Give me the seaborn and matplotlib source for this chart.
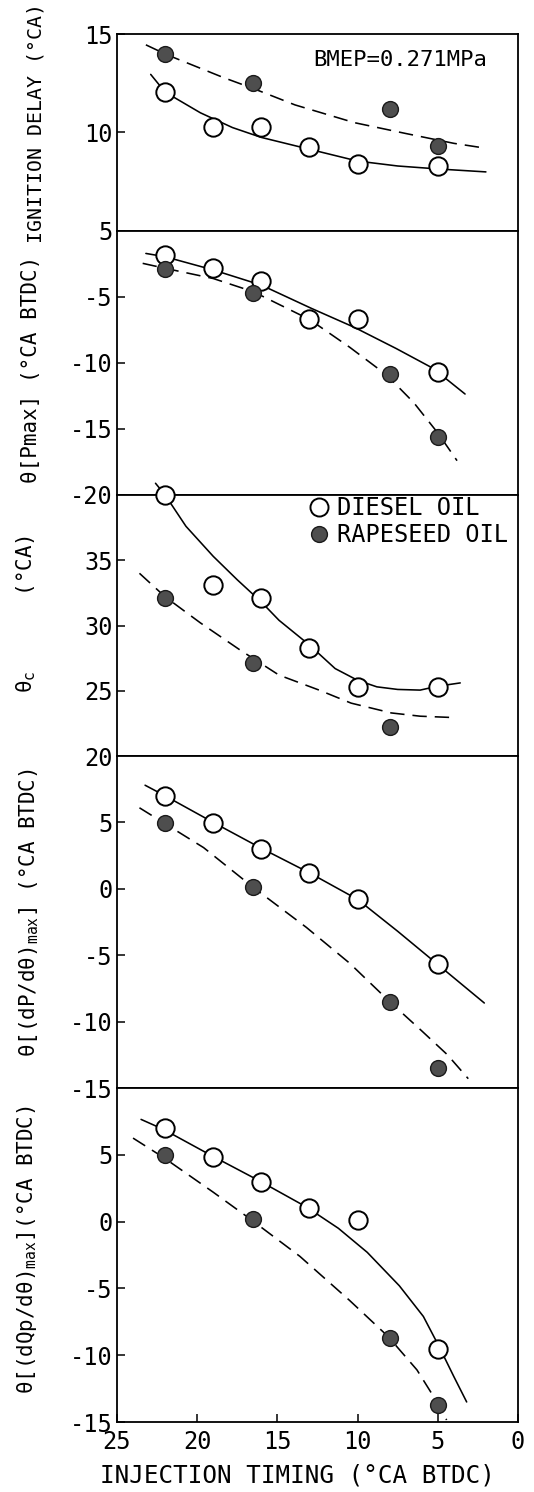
import matplotlib
matplotlib.use("Agg")
import matplotlib.pyplot as plt
import seaborn as sns
from matplotlib.lines import Line2D

# ---------------------------------------------------------------
# Injection timing (°CA BTDC) of the measured points
diesel_timing = [22, 19, 16, 13, 10, 5]
rapeseed_timing = [22, 16.5, 8, 5]
rapeseed_timing_thc = [22, 16.5, 8]

# Ignition delay (°CA)
delay_diesel = [12.05, 10.3, 10.3, 9.25, 8.4, 8.3]
delay_rapeseed = [14.0, 12.5, 11.2, 9.3]
# Crank angle of maximum pressure (°CA BTDC)
pmax_diesel = [-1.8, -2.8, -3.8, -6.7, -6.7, -10.7]
pmax_rapeseed = [-2.9, -4.7, -10.8, -15.6]
# Combustion duration (°CA)
thc_diesel = [40.0, 33.1, 32.1, 28.3, 25.3, 25.3]
thc_rapeseed = [32.1, 27.1, 22.2]
# Crank angle of maximum rate of pressure rise (°CA BTDC)
dp_diesel = [7.0, 4.95, 3.0, 1.2, -0.8, -5.7]
dp_rapeseed = [4.95, 0.1, -8.55, -13.5]
# Crank angle of maximum heat release rate (°CA BTDC)
dq_diesel = [7.0, 4.8, 3.0, 1.0, 0.15, -9.55]
dq_rapeseed = [5.0, 0.2, -8.7, -13.7]

# Hand-drawn trend curves (x = timing, y = value)
delay_diesel_fit_x = [22.9, 22.0, 19.8, 17.8, 16.0, 13.0, 10.0, 7.5, 5.0, 2.0]
delay_diesel_fit_y = [12.95, 12.05, 11.0, 10.25, 9.75, 9.15, 8.55, 8.3, 8.15, 8.0]
delay_rapeseed_fit_x = [23.2, 21.9, 18.4, 16.4, 13.9, 10.2, 7.0, 4.0, 2.0]
delay_rapeseed_fit_y = [14.45, 13.95, 12.8, 12.2, 11.4, 10.5, 9.95, 9.45, 9.2]

pmax_diesel_fit_x = [23.2, 22.0, 19.0, 16.0, 12.9, 10.2, 7.6, 5.3, 3.3]
pmax_diesel_fit_y = [-1.7, -1.95, -2.95, -4.1, -5.85, -7.3, -8.9, -10.4, -12.35]
pmax_rapeseed_fit_x = [23.4, 22.1, 19.0, 16.5, 13.0, 10.5, 8.2, 6.5, 5.0, 3.8]
pmax_rapeseed_fit_y = [-2.45, -2.8, -3.6, -4.6, -6.7, -8.8, -10.9, -13.0, -15.3, -17.4]

thc_diesel_fit_x = [22.6, 22.0, 20.7, 19.0, 17.5, 16.0, 14.9, 13.0, 11.4, 10.0, 8.8, 7.5, 6.1, 5.0, 3.6]
thc_diesel_fit_y = [40.9, 40.0, 37.6, 35.3, 33.5, 31.8, 30.4, 28.5, 26.7, 25.8, 25.3, 25.1, 25.05, 25.35, 25.6]
thc_rapeseed_fit_x = [23.6, 22.0, 19.8, 17.3, 14.9, 12.4, 10.4, 7.9, 6.1, 4.1]
thc_rapeseed_fit_y = [34.0, 32.2, 30.2, 28.1, 26.2, 25.05, 24.05, 23.3, 23.05, 22.95]

dp_diesel_fit_x = [23.25, 22.0, 19.0, 16.0, 13.0, 10.0, 7.5, 5.0, 2.1]
dp_diesel_fit_y = [7.8, 7.0, 5.0, 3.05, 1.2, -0.8, -3.2, -5.7, -8.6]
dp_rapeseed_fit_x = [23.6, 22.0, 19.6, 16.5, 13.2, 10.5, 8.0, 6.0, 4.4, 3.1]
dp_rapeseed_fit_y = [6.1, 4.9, 3.1, 0.1, -2.9, -5.6, -8.5, -10.7, -12.5, -14.3]

dq_diesel_fit_x = [23.5, 22.1, 19.2, 16.2, 13.2, 11.2, 9.4, 7.4, 5.9, 4.9, 4.0, 3.2]
dq_diesel_fit_y = [7.65, 6.9, 5.0, 3.1, 1.1, -0.5, -2.3, -4.8, -7.1, -9.4, -11.6, -13.5]
dq_rapeseed_fit_x = [24.0, 22.1, 19.0, 16.7, 13.6, 10.5, 8.1, 6.3, 5.0, 4.45]
dq_rapeseed_fit_y = [6.25, 4.8, 2.2, 0.2, -2.6, -5.9, -8.6, -11.1, -13.6, -14.85]

x_ticks = [25, 20, 15, 10, 5, 0]
# ---------------------------------------------------------------

sns.set_theme(style="ticks")
plt.rcParams["font.family"] = ["DejaVu Sans Mono", "DejaVu Sans"]
plt.rcParams["mathtext.fontset"] = "custom"
plt.rcParams["mathtext.rm"] = "DejaVu Sans Mono"
plt.rcParams["mathtext.it"] = "DejaVu Sans Mono:italic"
plt.rcParams["mathtext.bf"] = "DejaVu Sans Mono:bold"
plt.rcParams["mathtext.default"] = "regular"
plt.rcParams["text.color"] = "black"
plt.rcParams["axes.labelcolor"] = "black"
plt.rcParams["xtick.color"] = "black"
plt.rcParams["ytick.color"] = "black"

FILL = "#4e4e4e"
W, H = 534, 1492
fig = plt.figure(figsize=(W / 100, H / 100), dpi=100)

panel_edges = [34, 231, 495, 756, 1088, 1422]
ax_left, ax_right = 117, 518

panels = [
    dict(ylim=(5, 15), yticks=[5, 10, 15],
         ylabel="IGNITION DELAY (°CA)", lab=(-0.178, 0.55), lsize=14.3,
         dx=diesel_timing, dy=delay_diesel, rx=rapeseed_timing, ry=delay_rapeseed,
         fd=(delay_diesel_fit_x, delay_diesel_fit_y),
         fr=(delay_rapeseed_fit_x, delay_rapeseed_fit_y)),
    dict(ylim=(-20, 0), yticks=[-20, -15, -10, -5],
         ylabel="θ[Pmax] (°CA BTDC)", lab=(-0.19, 0.475), lsize=15,
         dx=diesel_timing, dy=pmax_diesel, rx=rapeseed_timing, ry=pmax_rapeseed,
         fd=(pmax_diesel_fit_x, pmax_diesel_fit_y),
         fr=(pmax_rapeseed_fit_x, pmax_rapeseed_fit_y)),
    dict(ylim=(20, 40), yticks=[20, 25, 30, 35],
         ylabel="$θ_c$      (°CA)", lab=(-0.198, 0.545), lsize=15,
         dx=diesel_timing, dy=thc_diesel, rx=rapeseed_timing_thc, ry=thc_rapeseed,
         fd=(thc_diesel_fit_x, thc_diesel_fit_y),
         fr=(thc_rapeseed_fit_x, thc_rapeseed_fit_y)),
    dict(ylim=(-15, 10), yticks=[-15, -10, -5, 0, 5],
         ylabel="θ[(dP/dθ$)_{max}$] (°CA BTDC)", lab=(-0.19, 0.527), lsize=15,
         dx=diesel_timing, dy=dp_diesel, rx=rapeseed_timing, ry=dp_rapeseed,
         fd=(dp_diesel_fit_x, dp_diesel_fit_y),
         fr=(dp_rapeseed_fit_x, dp_rapeseed_fit_y)),
    dict(ylim=(-15, 10), yticks=[-15, -10, -5, 0, 5],
         ylabel="θ[(dQp/dθ$)_{max}$](°CA BTDC)", lab=(-0.195, 0.515), lsize=15,
         dx=diesel_timing, dy=dq_diesel, rx=rapeseed_timing, ry=dq_rapeseed,
         fd=(dq_diesel_fit_x, dq_diesel_fit_y),
         fr=(dq_rapeseed_fit_x, dq_rapeseed_fit_y)),
]

axes = []
for i, (p, top, bottom) in enumerate(zip(panels, panel_edges[:-1], panel_edges[1:])):
    ax = fig.add_axes([ax_left / W, 1 - bottom / H,
                       (ax_right - ax_left) / W, (bottom - top) / H])
    axes.append(ax)
    ax.set_facecolor("white")

    # trend curves
    sns.lineplot(x=p["fd"][0], y=p["fd"][1], ax=ax, sort=False, estimator=None,
                 color="black", linewidth=1.15, zorder=2, clip_on=False)
    sns.lineplot(x=p["fr"][0], y=p["fr"][1], ax=ax, sort=False, estimator=None,
                 color="black", linewidth=1.15, linestyle=(0, (9, 5)),
                 zorder=2, clip_on=False)

    # measured points
    sns.scatterplot(x=p["dx"], y=p["dy"], ax=ax, s=175, marker="o",
                    color="white", edgecolor="black", linewidth=1.4,
                    zorder=4, clip_on=False, legend=False)
    sns.scatterplot(x=p["rx"], y=p["ry"], ax=ax, s=130, marker="o",
                    color=FILL, edgecolor="#1a1a1a", linewidth=1.0,
                    zorder=5, clip_on=False, legend=False)

    ax.set_xlim(25, 0)
    ax.set_ylim(*p["ylim"])
    ax.set_yticks(p["yticks"])
    ax.set_yticklabels([str(v) for v in p["yticks"]])
    ax.set_xticks(x_ticks)
    ax.tick_params(axis="y", direction="in", length=6, width=1.1,
                   labelsize=17, pad=3)
    ax.tick_params(axis="x", direction="in", length=6, width=1.1,
                   labelsize=17, pad=6)
    if i < len(panels) - 1:
        ax.tick_params(axis="x", bottom=False, labelbottom=False)
        ax.set_xlabel("")
    for side in ["left", "right", "top", "bottom"]:
        ax.spines[side].set_visible(True)
        ax.spines[side].set_color("black")
        ax.spines[side].set_linewidth(1.3)
    ax.set_ylabel(p["ylabel"], fontsize=p["lsize"])
    ax.yaxis.set_label_coords(*p["lab"])

axes[0].text(0.923, 0.868, "BMEP=0.271MPa", transform=axes[0].transAxes,
             ha="right", va="center", fontsize=16)

legend_handles = [
    Line2D([], [], linestyle="none", marker="o", markersize=13,
           markerfacecolor="white", markeredgecolor="black", markeredgewidth=1.4),
    Line2D([], [], linestyle="none", marker="o", markersize=11.4,
           markerfacecolor=FILL, markeredgecolor="#1a1a1a", markeredgewidth=1.0),
]
axes[2].legend(legend_handles, ["DIESEL OIL", "RAPESEED OIL"],
               loc="upper left", bbox_to_anchor=(0.485, 0.995), frameon=False,
               fontsize=17, handlelength=0.6, handletextpad=0.5,
               labelspacing=0.12, borderpad=0, borderaxespad=0)

axes[-1].set_xticklabels([str(v) for v in x_ticks])
axes[-1].set_xlabel("INJECTION TIMING (°CA BTDC)", fontsize=17.5)
axes[-1].xaxis.set_label_coords(0.449, -0.125)

fig.savefig("out.png", dpi=100, facecolor="white")
